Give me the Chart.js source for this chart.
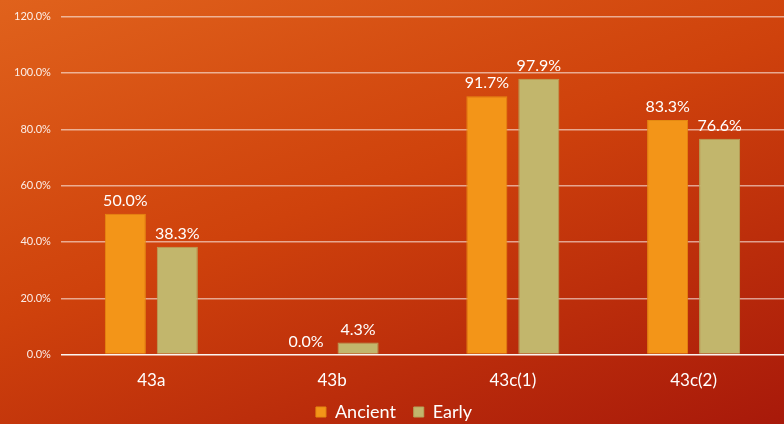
<!DOCTYPE html>
<html>
<head>
<meta charset="utf-8">
<script src="https://cdn.jsdelivr.net/npm/chart.js@4"></script>
<style>
  html, body { margin: 0; padding: 0; }
  body {
    width: 784px; height: 424px; overflow: hidden;
    background: linear-gradient(160deg, #e0621c 0%, #cf420c 45%, #a8190a 100%);
  }
  #wrap { position: relative; width: 784px; height: 424px; }
</style>
</head>
<body>
<div id="wrap"><canvas id="c"></canvas></div>
<script>
const categories = ['43a', '43b', '43c(1)', '43c(2)'];
const ancient = [50.0, 0.0, 91.7, 83.3];
const early = [38.3, 4.3, 97.9, 76.6];
const yTicks = [0, 20, 40, 60, 80, 100, 120];

const FONT = 'Lato, "Open Sans", sans-serif';

// draws value labels above each bar
const valueLabels = {
  id: 'valueLabels',
  afterDatasetsDraw(chart) {
    const ctx = chart.ctx;
    ctx.save();
    ctx.fillStyle = '#ffffff';
    ctx.font = '16px ' + FONT;
    ctx.textAlign = 'center';
    ctx.textBaseline = 'bottom';
    chart.data.datasets.forEach((ds, i) => {
      chart.getDatasetMeta(i).data.forEach((bar, j) => {
        ctx.fillText(ds.data[j].toFixed(1) + '%', bar.x, bar.y - 5);
      });
    });
    ctx.restore();
  }
};

new Chart(document.getElementById('c'), {
  type: 'bar',
  data: {
    labels: categories,
    datasets: [
      {
        label: 'Ancient',
        data: ancient,
        backgroundColor: '#f39518',
        borderColor: '#e58a12',
        borderWidth: 1,
        categoryPercentage: 0.575,
        barPercentage: 0.79,
      },
      {
        label: 'Early',
        data: early,
        backgroundColor: '#c2b66c',
        borderColor: '#b5a55c',
        borderWidth: 1,
        categoryPercentage: 0.575,
        barPercentage: 0.79,
      },
    ],
  },
  options: {
    responsive: true,
    maintainAspectRatio: false,
    animation: false,
    layout: { padding: { left: 4, right: 0, top: 10, bottom: -7 } },
    plugins: {
      legend: {
        position: 'bottom',
        labels: {
          color: '#ffffff',
          font: { size: 18, family: FONT },
          boxWidth: 10,
          boxHeight: 10,
          padding: 4,
          // a bit more room between the two entries
          generateLabels: chart =>
            Chart.defaults.plugins.legend.labels.generateLabels(chart)
              .map((l, i) => ({ ...l, text: i === 0 ? l.text + '   ' : l.text })),
        },
      },
      tooltip: { enabled: false },
    },
    scales: {
      x: {
        grid: { display: false },
        border: { display: false },
        ticks: { color: '#ffffff', font: { size: 17, family: FONT }, padding: 8 },
      },
      y: {
        min: 0,
        max: 120,
        afterBuildTicks: axis => { axis.ticks = yTicks.map(v => ({ value: v })); },
        ticks: {
          color: 'rgba(255,255,255,0.9)',
          font: { size: 11, family: FONT },
          padding: 10,
          callback: v => v.toFixed(1) + '%',
        },
        grid: {
          color: ctx => ctx.tick.value === 0 ? 'rgba(255,255,255,0.95)' : 'rgba(255,255,255,0.55)',
          lineWidth: 1.5,
          drawTicks: false,
        },
        border: { display: false },
      },
    },
  },
  plugins: [valueLabels],
});
</script>
</body>
</html>
